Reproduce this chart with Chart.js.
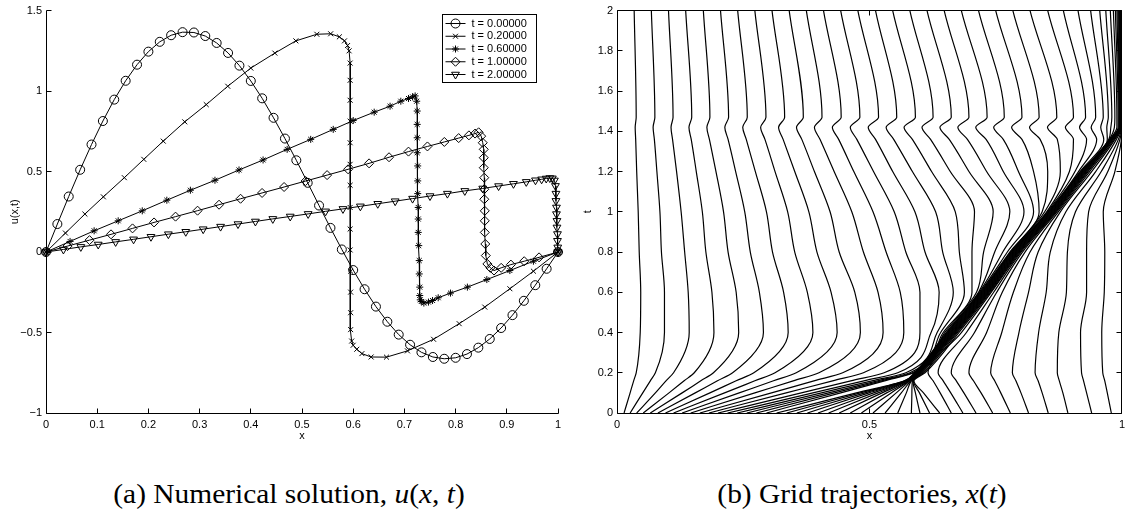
<!DOCTYPE html>
<html>
<head>
<meta charset="utf-8">
<title>Numerical solution and grid trajectories</title>
<script src="https://cdn.jsdelivr.net/npm/chart.js@4.4.1/dist/chart.umd.min.js"></script>
<style>
  html, body { margin: 0; padding: 0; background: #fff; }
  #page { position: relative; width: 1130px; height: 517px; overflow: hidden; }
  .panel { position: absolute; top: 0; height: 450px; }
  #panelA { left: 0; width: 570px; }
  #panelB { left: 570px; width: 560px; }
  .caption { position: absolute; top: 479px; font-family: "Liberation Serif", "DejaVu Serif", serif; font-size: 27px; line-height: 30px; color: #000; white-space: nowrap; transform: translateX(-50%) scaleX(1.09); }
</style>
</head>
<body>
<div id="page">
  <div class="panel" id="panelA"><canvas id="solutionChart"></canvas></div>
  <div class="panel" id="panelB"><canvas id="meshChart"></canvas></div>
  <div class="caption" style="left:289px">(a) Numerical solution, <i>u</i>(<i>x</i>, <i>t</i>)</div>
  <div class="caption" style="left:862px">(b) Grid trajectories, <i>x</i>(<i>t</i>)</div>
</div>
<script>
// ---- (a) solution u(x,t), node positions and values at five times
var legendLabels = [ "t = 0.00000", "t = 0.20000", "t = 0.60000", "t = 1.00000", "t = 2.00000" ];

var xT0 = [0, 0.0222, 0.0444, 0.0667, 0.0889, 0.1111, 0.1333, 0.1556, 0.1778, 0.2, 0.2222, 0.2444, 0.2667, 0.2889, 0.3111, 0.3333, 0.3556, 0.3778, 0.4, 0.4222, 0.4444, 0.4667, 0.4889, 0.5111, 0.5333, 0.5556, 0.5778, 0.6, 0.6222, 0.6444, 0.6667, 0.6889, 0.7111, 0.7333, 0.7556, 0.7778, 0.8, 0.8222, 0.8444, 0.8667, 0.8889, 0.9111, 0.9333, 0.9556, 0.9778, 1];
var uT0 = [0, 0.174, 0.345, 0.511, 0.668, 0.814, 0.947, 1.064, 1.164, 1.245, 1.306, 1.347, 1.366, 1.364, 1.342, 1.299, 1.237, 1.158, 1.063, 0.955, 0.834, 0.705, 0.570, 0.430, 0.289, 0.150, 0.016, -0.112, -0.231, -0.339, -0.433, -0.513, -0.576, -0.623, -0.652, -0.663, -0.657, -0.634, -0.594, -0.540, -0.472, -0.392, -0.303, -0.206, -0.104, 0];

var xT02 = [0, 0.038, 0.076, 0.112, 0.153, 0.191, 0.229, 0.271, 0.313, 0.355, 0.400, 0.447, 0.488, 0.529, 0.556, 0.573, 0.583, 0.589, 0.592, 0.594, 0.594, 0.594, 0.594, 0.594, 0.594, 0.594, 0.594, 0.594, 0.594, 0.595, 0.595, 0.595, 0.595, 0.597, 0.600, 0.607, 0.617, 0.635, 0.665, 0.706, 0.757, 0.807, 0.857, 0.906, 0.952, 1];
var uT02 = [0, 0.118, 0.236, 0.343, 0.462, 0.576, 0.689, 0.809, 0.916, 1.030, 1.143, 1.236, 1.312, 1.353, 1.356, 1.337, 1.312, 1.283, 1.250, 1.174, 1.067, 0.943, 0.813, 0.679, 0.545, 0.415, 0.277, 0.143, 0.013, -0.119, -0.249, -0.377, -0.482, -0.553, -0.579, -0.604, -0.631, -0.652, -0.653, -0.614, -0.542, -0.445, -0.342, -0.228, -0.119, 0];

var xT06 = [0, 0.047, 0.094, 0.141, 0.188, 0.236, 0.282, 0.330, 0.377, 0.424, 0.471, 0.517, 0.561, 0.600, 0.641, 0.672, 0.693, 0.708, 0.716, 0.721, 0.724, 0.725, 0.725, 0.725, 0.725, 0.726, 0.726, 0.726, 0.727, 0.727, 0.727, 0.728, 0.729, 0.729, 0.730, 0.730, 0.731, 0.733, 0.738, 0.747, 0.755, 0.766, 0.790, 0.823, 0.861, 0.906, 0.952, 1];
var uT06 = [0, 0.066, 0.132, 0.194, 0.256, 0.322, 0.384, 0.446, 0.510, 0.572, 0.638, 0.700, 0.762, 0.817, 0.869, 0.906, 0.937, 0.954, 0.964, 0.970, 0.937, 0.876, 0.793, 0.710, 0.617, 0.535, 0.442, 0.363, 0.277, 0.205, 0.122, 0.040, -0.053, -0.136, -0.218, -0.270, -0.297, -0.307, -0.317, -0.311, -0.301, -0.284, -0.255, -0.218, -0.171, -0.115, -0.057, 0];

var xT1 = [0, 0.042, 0.085, 0.127, 0.169, 0.211, 0.253, 0.296, 0.338, 0.380, 0.422, 0.465, 0.507, 0.549, 0.590, 0.631, 0.670, 0.708, 0.745, 0.778, 0.806, 0.826, 0.838, 0.845, 0.850, 0.853, 0.855, 0.855, 0.855, 0.856, 0.856, 0.856, 0.857, 0.857, 0.857, 0.858, 0.859, 0.862, 0.868, 0.875, 0.889, 0.908, 0.934, 0.963, 1];
var uT1 = [0, 0.037, 0.074, 0.110, 0.147, 0.184, 0.220, 0.257, 0.294, 0.331, 0.367, 0.404, 0.441, 0.478, 0.514, 0.551, 0.589, 0.624, 0.656, 0.684, 0.708, 0.725, 0.736, 0.744, 0.720, 0.679, 0.638, 0.586, 0.524, 0.462, 0.390, 0.328, 0.256, 0.194, 0.122, 0.050, -0.022, -0.074, -0.098, -0.115, -0.098, -0.078, -0.057, -0.033, 0];

var xT2 = [0, 0.034, 0.068, 0.102, 0.136, 0.171, 0.205, 0.239, 0.273, 0.307, 0.341, 0.375, 0.409, 0.443, 0.477, 0.512, 0.546, 0.580, 0.614, 0.648, 0.682, 0.716, 0.750, 0.784, 0.818, 0.853, 0.884, 0.913, 0.938, 0.956, 0.968, 0.977, 0.984, 0.989, 0.993, 0.995, 0.996, 0.996, 0.997, 0.997, 0.998, 0.998, 0.999, 0.999, 0.9995, 1];
var uT2 = [0, 0.016, 0.032, 0.047, 0.063, 0.079, 0.095, 0.111, 0.126, 0.142, 0.158, 0.174, 0.190, 0.206, 0.221, 0.237, 0.253, 0.268, 0.284, 0.300, 0.316, 0.332, 0.348, 0.363, 0.380, 0.395, 0.410, 0.424, 0.436, 0.446, 0.452, 0.457, 0.460, 0.458, 0.445, 0.411, 0.363, 0.318, 0.277, 0.236, 0.194, 0.153, 0.112, 0.070, 0.029, 0];

// ---- (b) grid trajectories: interior node positions x at a few times t
var keyTimes = [0, 0.1, 0.16, 0.2, 0.4, 0.6, 0.8, 1.0, 1.2, 1.36, 1.42, 1.47, 2.0];

var xAtT000 = [0.014, 0.026, 0.039, 0.052, 0.066, 0.081, 0.096, 0.112, 0.129, 0.146, 0.164, 0.182, 0.200, 0.219, 0.238, 0.257, 0.276, 0.296, 0.316, 0.336, 0.356, 0.377, 0.398, 0.419, 0.440, 0.462, 0.484, 0.507, 0.531, 0.556, 0.583, 0.600, 0.619, 0.639, 0.662, 0.685, 0.711, 0.744, 0.779, 0.815, 0.854, 0.893, 0.940, 0.979];
var xAtT010 = [0.026, 0.051, 0.076, 0.103, 0.129, 0.155, 0.184, 0.213, 0.242, 0.273, 0.306, 0.335, 0.365, 0.388, 0.405, 0.419, 0.431, 0.443, 0.474, 0.482, 0.491, 0.499, 0.508, 0.517, 0.525, 0.534, 0.543, 0.553, 0.563, 0.573, 0.584, 0.591, 0.599, 0.607, 0.640, 0.661, 0.687, 0.721, 0.760, 0.800, 0.842, 0.883, 0.930, 0.971];
var xAtT016 = [0.033, 0.066, 0.097, 0.133, 0.166, 0.199, 0.236, 0.273, 0.310, 0.349, 0.390, 0.427, 0.463, 0.489, 0.505, 0.516, 0.524, 0.530, 0.569, 0.570, 0.571, 0.573, 0.574, 0.575, 0.576, 0.578, 0.579, 0.580, 0.582, 0.583, 0.585, 0.586, 0.587, 0.588, 0.626, 0.646, 0.672, 0.706, 0.748, 0.790, 0.834, 0.876, 0.924, 0.966];
var xAtT020 = [0.038, 0.076, 0.112, 0.153, 0.191, 0.229, 0.271, 0.313, 0.355, 0.400, 0.447, 0.488, 0.529, 0.556, 0.572, 0.580, 0.585, 0.588, 0.589, 0.590, 0.591, 0.592, 0.593, 0.594, 0.595, 0.596, 0.597, 0.598, 0.599, 0.600, 0.602, 0.604, 0.607, 0.610, 0.616, 0.636, 0.662, 0.697, 0.740, 0.783, 0.828, 0.872, 0.920, 0.962];
var xAtT040 = [0.046, 0.094, 0.143, 0.192, 0.241, 0.290, 0.339, 0.388, 0.436, 0.482, 0.527, 0.568, 0.600, 0.622, 0.634, 0.641, 0.646, 0.649, 0.652, 0.6535, 0.655, 0.6565, 0.658, 0.6595, 0.661, 0.6625, 0.664, 0.6655, 0.667, 0.6685, 0.670, 0.672, 0.674, 0.677, 0.682, 0.692, 0.708, 0.732, 0.762, 0.796, 0.835, 0.875, 0.918, 0.960];
var xAtT060 = [0.047, 0.094, 0.141, 0.188, 0.236, 0.282, 0.330, 0.377, 0.424, 0.471, 0.517, 0.561, 0.600, 0.638, 0.666, 0.688, 0.703, 0.712, 0.716, 0.7175, 0.719, 0.7205, 0.722, 0.7235, 0.725, 0.7265, 0.728, 0.7295, 0.731, 0.7325, 0.734, 0.7355, 0.737, 0.739, 0.741, 0.746, 0.752, 0.763, 0.785, 0.815, 0.850, 0.890, 0.930, 0.965];
var xAtT080 = [0.044, 0.088, 0.134, 0.176, 0.220, 0.264, 0.308, 0.352, 0.396, 0.440, 0.488, 0.533, 0.572, 0.610, 0.645, 0.678, 0.703, 0.726, 0.748, 0.764, 0.773, 0.778, 0.7795, 0.781, 0.7825, 0.784, 0.7855, 0.787, 0.7885, 0.790, 0.7915, 0.793, 0.7945, 0.796, 0.798, 0.800, 0.803, 0.808, 0.818, 0.834, 0.858, 0.892, 0.930, 0.966];
var xAtT100 = [0.042, 0.085, 0.127, 0.169, 0.211, 0.253, 0.296, 0.338, 0.380, 0.422, 0.465, 0.507, 0.549, 0.590, 0.631, 0.670, 0.708, 0.745, 0.778, 0.806, 0.825, 0.836, 0.842, 0.847, 0.851, 0.8525, 0.854, 0.8555, 0.857, 0.8585, 0.860, 0.8615, 0.863, 0.8645, 0.866, 0.8675, 0.869, 0.871, 0.874, 0.878, 0.889, 0.908, 0.934, 0.963];
var xAtT120 = [0.039, 0.079, 0.118, 0.157, 0.196, 0.235, 0.274, 0.313, 0.352, 0.391, 0.430, 0.469, 0.508, 0.546, 0.585, 0.623, 0.660, 0.697, 0.732, 0.765, 0.795, 0.825, 0.853, 0.878, 0.896, 0.907, 0.914, 0.917, 0.9185, 0.920, 0.9215, 0.923, 0.9245, 0.926, 0.9275, 0.929, 0.931, 0.933, 0.936, 0.940, 0.948, 0.959, 0.972, 0.986];
var xAtT136 = [0.037, 0.074, 0.110, 0.147, 0.183, 0.220, 0.256, 0.293, 0.329, 0.366, 0.402, 0.439, 0.475, 0.512, 0.548, 0.585, 0.621, 0.658, 0.694, 0.731, 0.765, 0.802, 0.838, 0.872, 0.904, 0.930, 0.950, 0.964, 0.971, 0.974, 0.975, 0.976, 0.977, 0.978, 0.979, 0.980, 0.981, 0.982, 0.984, 0.986, 0.989, 0.993, 0.996, 0.999];
var xAtT142 = [0.036, 0.0715, 0.107, 0.1425, 0.178, 0.2135, 0.249, 0.2845, 0.320, 0.3555, 0.391, 0.4265, 0.462, 0.4975, 0.533, 0.5685, 0.604, 0.6395, 0.675, 0.7105, 0.746, 0.7815, 0.817, 0.8525, 0.888, 0.916, 0.939, 0.958, 0.970, 0.978, 0.985, 0.990, 0.9925, 0.994, 0.995, 0.996, 0.9967, 0.9974, 0.998, 0.9985, 0.999, 0.9993, 0.9996, 0.9999];
var xAtT147 = [0.038, 0.075, 0.111, 0.148, 0.184, 0.221, 0.258, 0.295, 0.332, 0.369, 0.406, 0.444, 0.481, 0.518, 0.554, 0.591, 0.626, 0.662, 0.697, 0.733, 0.767, 0.802, 0.836, 0.871, 0.904, 0.928, 0.948, 0.963, 0.973, 0.980, 0.986, 0.990, 0.9925, 0.994, 0.995, 0.996, 0.9967, 0.9974, 0.998, 0.9985, 0.999, 0.9993, 0.9996, 0.9999];
var xAtT200 = [0.034, 0.068, 0.102, 0.136, 0.171, 0.205, 0.239, 0.273, 0.307, 0.341, 0.375, 0.409, 0.443, 0.477, 0.512, 0.546, 0.580, 0.614, 0.648, 0.682, 0.716, 0.750, 0.784, 0.818, 0.853, 0.884, 0.913, 0.938, 0.956, 0.968, 0.977, 0.983, 0.987, 0.990, 0.992, 0.9935, 0.995, 0.996, 0.997, 0.9975, 0.998, 0.9985, 0.999, 0.9995];

var nodeX = [ xAtT000, xAtT010, xAtT016, xAtT020, xAtT040, xAtT060, xAtT080, xAtT100, xAtT120, xAtT136, xAtT142, xAtT147, xAtT200 ];

// ---- shared look
var sansFont = '"Liberation Sans", Arial, sans-serif';
var tickFont = { family: sansFont, size: 11 };
var inkColor = "#000";

function fmtTick( v ) {
	var s = String( Math.round( v * 10 ) / 10 );
	// matlab style minus sign
	return s.charAt( 0 ) === "-" ? "\u2212" + s.slice( 1 ) : s;
}

function toPoints( xs, ys ) {
	var out = [];
	for ( var i = 0; i < xs.length; i++ ) {
		out.push( { x: xs[ i ], y: ys[ i ] } );
	}
	return out;
}

function snap( c ) { return Math.floor( c ) + 0.5; }

// axis lines + inward ticks (and an optional full box)
var frameTicks = {
	id: "frameTicks",
	afterDatasetsDraw: function( chart, args, opts ) {
		var ctx = chart.ctx;
		var a = chart.chartArea;
		var sx = chart.scales.x, sy = chart.scales.y;
		var len = 5;
		var L = snap( a.left ), R = snap( a.right ), T = snap( a.top ), B = snap( a.bottom );
		ctx.save();
		ctx.strokeStyle = inkColor;
		ctx.lineWidth = 1;
		ctx.beginPath();
		ctx.moveTo( L, T ); ctx.lineTo( L, B ); ctx.lineTo( R, B );
		if ( opts.box ) { ctx.lineTo( R, T ); ctx.lineTo( L, T ); }
		sx.ticks.forEach( function( t ) {
			var px = snap( sx.getPixelForValue( t.value ) );
			ctx.moveTo( px, B ); ctx.lineTo( px, B - len );
			if ( opts.box ) { ctx.moveTo( px, T ); ctx.lineTo( px, T + len ); }
		} );
		sy.ticks.forEach( function( t ) {
			var py = snap( sy.getPixelForValue( t.value ) );
			ctx.moveTo( L, py ); ctx.lineTo( L + len, py );
			if ( opts.box ) { ctx.moveTo( R, py ); ctx.lineTo( R - len, py ); }
		} );
		ctx.stroke();
		ctx.restore();
	}
};

// boxed legend in the upper right corner of panel (a)
var boxLegend = {
	id: "boxLegend",
	afterDraw: function( chart ) {
		var ctx = chart.ctx;
		var a = chart.chartArea;
		var x0 = snap( a.right - 116 ), y0 = snap( a.top + 4 );
		var w = 94, h = 68;
		ctx.save();
		ctx.fillStyle = "#fff";
		ctx.fillRect( x0, y0, w, h );
		ctx.strokeStyle = inkColor;
		ctx.lineWidth = 1;
		ctx.strokeRect( x0, y0, w, h );
		ctx.font = "11px " + sansFont;
		ctx.textBaseline = "middle";
		chart.data.datasets.forEach( function( ds, i ) {
			var y = y0 + 9 + i * 12.75;
			ctx.beginPath();
			ctx.moveTo( x0 + 3, y );
			ctx.lineTo( x0 + 23, y );
			ctx.stroke();
			ctx.fillStyle = "rgba(0,0,0,0)";
			Chart.helpers.drawPoint( ctx, {
				pointStyle: ds.pointStyle,
				rotation: ds.pointRotation || 0,
				radius: ds.pointRadius,
				borderWidth: 1
			}, x0 + 13, y );
			ctx.fillStyle = inkColor;
			ctx.fillText( ds.label, x0 + 29, y );
		} );
		ctx.restore();
	}
};

function solutionSet( label, xs, ys, style, radius, rotation ) {
	return {
		label: label,
		data: toPoints( xs, ys ),
		borderColor: inkColor,
		borderWidth: 1,
		tension: 0,
		pointStyle: style,
		pointRadius: radius,
		pointRotation: rotation || 0,
		pointBorderColor: inkColor,
		pointBackgroundColor: "rgba(0,0,0,0)",
		pointBorderWidth: 1,
		clip: false
	};
}

new Chart( document.getElementById( "solutionChart" ), {
	type: "line",
	data: {
		datasets: [
			solutionSet( legendLabels[0], xT0, uT0, "circle", 4.5 ),
			solutionSet( legendLabels[1], xT02, uT02, "crossRot", 3.5 ),
			solutionSet( legendLabels[2], xT06, uT06, "star", 3.5 ),
			solutionSet( legendLabels[3], xT1, uT1, "rectRot", 4.5 ),
			solutionSet( legendLabels[4], xT2, uT2, "triangle", 4.5, 180 )
		]
	},
	options: {
		responsive: true,
		maintainAspectRatio: false,
		animation: false,
		events: [],
		layout: { padding: { top: 9, right: 12, left: 0, bottom: 0 } },
		plugins: { legend: { display: false }, tooltip: { enabled: false }, frameTicks: { box: false } },
		scales: {
			x: {
				type: "linear", min: 0, max: 1,
				grid: { display: false, drawTicks: false },
				border: { display: false },
				ticks: { stepSize: 0.1, autoSkip: false, maxRotation: 0, padding: 5, color: inkColor, font: tickFont, callback: fmtTick },
				title: { display: true, text: "x", color: inkColor, font: tickFont, padding: { top: 0, bottom: 7 } },
				afterFit: function( s ) { s.height = 37; }
			},
			y: {
				type: "linear", min: -1, max: 1.5,
				grid: { display: false, drawTicks: false },
				border: { display: false },
				ticks: { stepSize: 0.5, autoSkip: false, padding: 4, color: inkColor, font: tickFont, callback: fmtTick },
				title: { display: true, text: "u(x,t)", color: inkColor, font: tickFont, padding: { top: 8, bottom: 0 } },
				afterFit: function( s ) { s.width = 46; }
			}
		}
	},
	plugins: [ frameTicks, boxLegend ]
} );

// one line per grid node, x as a function of t
var meshSets = [];
for ( var n = 0; n < nodeX[0].length; n++ ) {
	var pts = [];
	for ( var j = 0; j < keyTimes.length; j++ ) {
		pts.push( { x: nodeX[ j ][ n ], y: keyTimes[ j ] } );
	}
	meshSets.push( {
		data: pts,
		borderColor: inkColor,
		borderWidth: 1.2,
		pointRadius: 0,
		cubicInterpolationMode: "monotone",
		fill: false
	} );
}

new Chart( document.getElementById( "meshChart" ), {
	type: "line",
	data: { datasets: meshSets },
	options: {
		indexAxis: "y",
		responsive: true,
		maintainAspectRatio: false,
		animation: false,
		events: [],
		layout: { padding: { top: 9, right: 2, left: 0, bottom: 0 } },
		plugins: { legend: { display: false }, tooltip: { enabled: false }, frameTicks: { box: true } },
		scales: {
			x: {
				type: "linear", position: "bottom", min: 0, max: 1,
				grid: { display: false, drawTicks: false },
				border: { display: false },
				ticks: { stepSize: 0.5, autoSkip: false, maxRotation: 0, padding: 5, color: inkColor, font: tickFont, callback: fmtTick },
				title: { display: true, text: "x", color: inkColor, font: tickFont, padding: { top: 0, bottom: 7 } },
				afterFit: function( s ) { s.height = 37; }
			},
			y: {
				type: "linear", position: "left", min: 0, max: 2,
				grid: { display: false, drawTicks: false },
				border: { display: false },
				ticks: { stepSize: 0.2, autoSkip: false, padding: 4, color: inkColor, font: tickFont, callback: fmtTick },
				title: { display: true, text: "t", color: inkColor, font: tickFont, padding: { top: 11, bottom: 0 } },
				afterFit: function( s ) { s.width = 47; }
			}
		}
	},
	plugins: [ frameTicks ]
} );
</script>
</body>
</html>
